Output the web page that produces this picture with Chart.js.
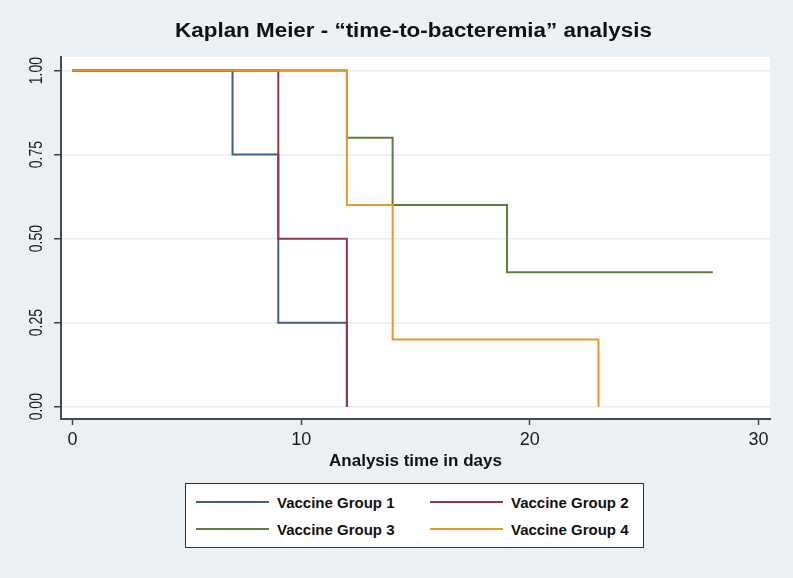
<!DOCTYPE html>
<html lang="en">
  <head>
    <meta charset="UTF-8" />
    <title>Kaplan Meier - time-to-bacteremia</title>
    <script src="https://cdn.jsdelivr.net/npm/chart.js@4"></script>
    <style>
      body {
        margin: 0;
        background-color: #eaf0f3;
        font-family: 'Liberation Sans', Arial, sans-serif;
      }

      #wrap {
        position: relative;
        width: 793px;
        height: 578px;
      }

      #km {
        position: absolute;
        left: 0;
        top: 0;
      }

      #legend {
        position: absolute;
        left: 185px;
        top: 483px;
        width: 457px;
        height: 63px;
        background: #ffffff;
        border: 1.5px solid #333;
      }

      .item {
        position: absolute;
        height: 18px;
        display: flex;
        align-items: center;
        font-weight: bold;
        font-size: 15px;
        color: #111;
        white-space: nowrap;
      }

      .item .swatch {
        width: 73px;
        height: 2px;
        margin-right: 8px;
      }
    </style>
  </head>
  <body>
    <div id="wrap">
      <canvas id="km" width="793" height="578"></canvas>
      <div id="legend"></div>
    </div>

    <script>
      const chartTitle = 'Kaplan Meier - \u201ctime-to-bacteremia\u201d analysis'
      const xTitle = 'Analysis time in days'

      const groupNames = ['Vaccine Group 1', 'Vaccine Group 2', 'Vaccine Group 3', 'Vaccine Group 4']
      const groupColors = ['#3f5e8c', '#8c3a4c', '#5f7d3f', '#e8962e']

      // survival steps: time (days) and survival probability
      const g1Time = [0, 7, 9, 12]
      const g1Surv = [1, 0.75, 0.25, 0]
      const g2Time = [0, 9, 12]
      const g2Surv = [1, 0.5, 0]
      const g3Time = [0, 12, 14, 19, 28]
      const g3Surv = [1, 0.8, 0.6, 0.4, 0.4]
      const g4Time = [0, 12, 14, 23]
      const g4Surv = [1, 0.6, 0.2, 0]

      const xTicks = [0, 10, 20, 30]
      const yTicks = [0, 0.25, 0.5, 0.75, 1]
      const xRange = [-0.5, 30.5]
      const yRange = [-0.0366, 1.0404]

      const groupTimes = [g1Time, g2Time, g3Time, g4Time]
      const groupSurv = [g1Surv, g2Surv, g3Surv, g4Surv]

      const datasets = groupNames.map((name, i) => ({
        label: name,
        data: groupTimes[i].map((t, j) => ({ x: t, y: groupSurv[i][j] })),
        borderColor: groupColors[i],
        borderWidth: 2,
        pointRadius: 0,
        stepped: true,
        fill: false,
        order: groupNames.length - i,
      }))

      const fontFamily = "'Liberation Sans', Arial, sans-serif"

      const background = {
        id: 'background',
        beforeDraw(chart) {
          const { ctx, chartArea } = chart
          ctx.save()
          ctx.fillStyle = '#eaf0f3'
          ctx.fillRect(0, 0, chart.width, chart.height)
          ctx.fillStyle = '#ffffff'
          ctx.fillRect(chartArea.left, chartArea.top, chartArea.right - chartArea.left, chartArea.bottom - chartArea.top)
          ctx.restore()
        },
      }

      // title and rotated y labels, drawn by hand
      const extraText = {
        id: 'extraText',
        afterDraw(chart) {
          const { ctx, chartArea } = chart
          const yScale = chart.scales.y
          ctx.save()
          ctx.fillStyle = '#111'
          ctx.font = 'bold 20px ' + fontFamily
          ctx.textAlign = 'center'
          ctx.textBaseline = 'alphabetic'
          ctx.translate((chartArea.left + chartArea.right) / 2 - 2, 37)
          ctx.scale(1.12, 1)
          ctx.fillText(chartTitle, 0, 0)
          ctx.restore()

          yScale.ticks.forEach(tick => {
            const y = yScale.getPixelForValue(tick.value)
            ctx.save()
            ctx.fillStyle = '#1a1a1a'
            ctx.font = '18px ' + fontFamily
            ctx.textAlign = 'center'
            ctx.textBaseline = 'middle'
            ctx.translate(37, y)
            ctx.rotate(-Math.PI / 2)
            ctx.scale(0.78, 1)
            ctx.fillText(tick.value.toFixed(2), 0, 0)
            ctx.restore()
          })
        },
      }

      new Chart(document.getElementById('km'), {
        type: 'line',
        data: { datasets },
        plugins: [background, extraText],
        options: {
          responsive: false,
          animation: false,
          layout: { padding: { left: 0, right: 23, top: 57, bottom: 99 } },
          plugins: {
            legend: { display: false },
            title: { display: false },
            tooltip: { enabled: false },
          },
          scales: {
            x: {
              type: 'linear',
              min: xRange[0],
              max: xRange[1],
              afterBuildTicks: scale => {
                scale.ticks = xTicks.map(v => ({ value: v }))
              },
              afterFit: scale => {
                scale.height = 60
              },
              ticks: {
                color: '#1a1a1a',
                font: { family: fontFamily, size: 18 },
                padding: 4,
                maxRotation: 0,
              },
              grid: {
                drawOnChartArea: false,
                drawTicks: true,
                tickLength: 6,
                tickColor: '#444',
                tickWidth: 1.5,
              },
              border: { display: true, color: '#4a4a4a', width: 2 },
              title: {
                display: true,
                text: xTitle,
                color: '#111',
                font: { family: fontFamily, size: 17, weight: 'bold' },
                padding: { top: 0, bottom: 7 },
              },
            },
            y: {
              type: 'linear',
              min: yRange[0],
              max: yRange[1],
              afterBuildTicks: scale => {
                scale.ticks = yTicks.map(v => ({ value: v }))
              },
              afterFit: scale => {
                scale.width = 61
              },
              ticks: { display: false },
              grid: {
                color: '#e8eef1',
                lineWidth: 1.5,
                drawTicks: true,
                tickLength: 7,
                tickColor: '#444',
                tickWidth: 1.5,
              },
              border: { display: true, color: '#4a4a4a', width: 2 },
            },
          },
        },
      })

      // legend in two columns
      const legendPos = [
        { left: 10, top: 9 },
        { left: 244, top: 9 },
        { left: 10, top: 36 },
        { left: 244, top: 36 },
      ]
      const legendDiv = document.getElementById('legend')
      groupNames.forEach((name, i) => {
        const item = document.createElement('div')
        item.className = 'item'
        item.style.left = legendPos[i].left + 'px'
        item.style.top = legendPos[i].top + 'px'
        item.innerHTML = `<span class="swatch" style="background:${groupColors[i]}"></span>${name}`
        legendDiv.appendChild(item)
      })
    </script>
  </body>
</html>
